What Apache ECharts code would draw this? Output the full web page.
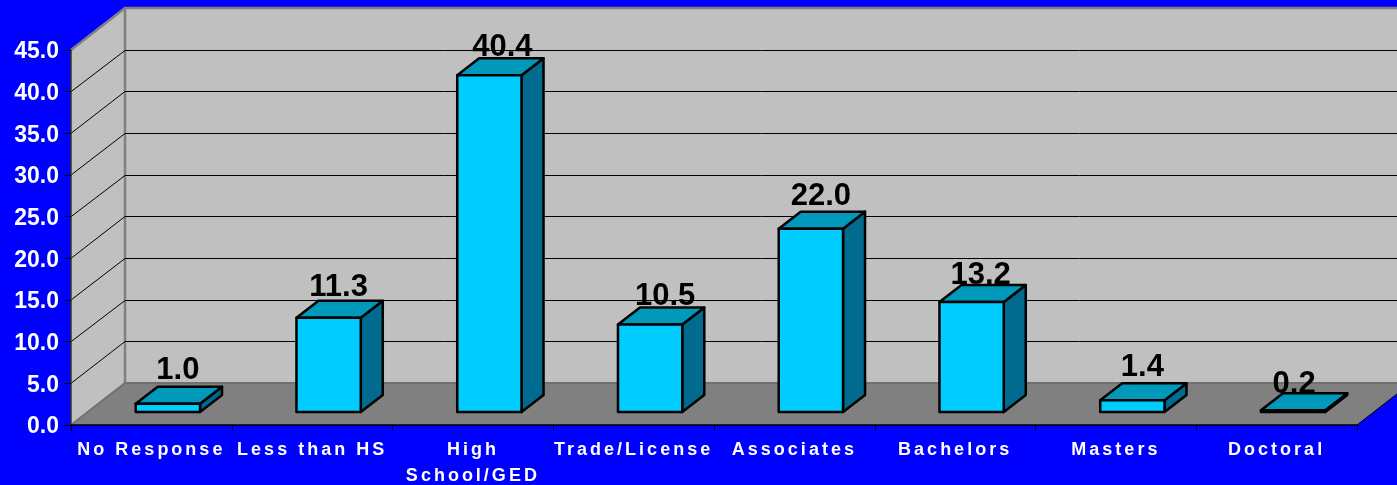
<!DOCTYPE html>
<html>
<head>
<meta charset="utf-8">
<style>html,body{margin:0;padding:0;background:#0000ff}#c{width:1397px;height:485px}</style>
<script src="https://cdn.jsdelivr.net/npm/echarts@6/dist/echarts.min.js"></script>
</head>
<body>
<div id="c"></div>
<script>
const categories = ['No Response', 'Less than HS', 'High\nSchool/GED', 'Trade/License', 'Associates', 'Bachelors', 'Masters', 'Doctoral'];
const percentages = [1.0, 11.3, 40.4, 10.5, 22.0, 13.2, 1.4, 0.2];
const gridTicks = [5, 10, 15, 20, 25, 30, 35, 40];
const labelNudgeX = [10, 10, 13, 15, 10, 9, 10, 1];
const labelNudgeY = [2, -1, -4, -3, 1, -5, 1, -6];

// Category labels in the reference are letter-spaced; the canvas exposes that per draw.
const CATEGORY_FONT_SIZE = 18;
const nativeFillText = CanvasRenderingContext2D.prototype.fillText;
CanvasRenderingContext2D.prototype.fillText = function (t, x, y, w) {
  this.letterSpacing = this.font.indexOf(CATEGORY_FONT_SIZE + 'px') >= 0 ? '3px' : '0px';
  return nativeFillText.call(this, t, x, y, w);
};

const FONT = '"Liberation Sans", Arial, sans-serif';
const WALL_DX = 54, WALL_DY = 42;
const BAR_SHIFT_X = 16.5, BAR_SHIFT_Y = 13, BAR_DX = 22, BAR_DY = 17;
const crisp = v => Math.round(v) + 0.5;

function renderWalls(params, api) {
  const r = params.coordSys;
  const L = r.x, R = r.x + r.width, T = r.y, B = r.y + r.height;
  const backB = B - WALL_DY, backT = T - WALL_DY;
  const edge = { stroke: '#808080', lineWidth: 2.5, fill: null };
  return { type: 'group', silent: true, children: [
    { type: 'polygon', shape: { points: [[L + WALL_DX, backT], [R + WALL_DX, backT], [R + WALL_DX, backB], [L + WALL_DX, backB]] }, style: { fill: '#c0c0c0', stroke: 'none' } },
    { type: 'polygon', shape: { points: [[L, T], [L + WALL_DX, backT], [L + WALL_DX, backB], [L, B]] }, style: { fill: '#c0c0c0', stroke: 'none' } },
    { type: 'polygon', shape: { points: [[L, B], [L + WALL_DX, backB], [R + WALL_DX, backB], [R, B]] }, style: { fill: '#808080', stroke: 'none' } },
    { type: 'polyline', shape: { points: [[L, T], [L + WALL_DX, backT], [R + WALL_DX, backT]] }, style: edge },
    { type: 'line', shape: { x1: L + WALL_DX, y1: backT, x2: L + WALL_DX, y2: backB }, style: edge },
    { type: 'polyline', shape: { points: [[L, B], [L + WALL_DX, backB], [R + WALL_DX, backB]] }, style: { stroke: '#707070', lineWidth: 2, fill: null } },
    { type: 'line', shape: { x1: R, y1: B, x2: R + WALL_DX, y2: backB }, style: { stroke: '#000', lineWidth: 1 } }
  ] };
}

function renderGrid(params, api) {
  const r = params.coordSys;
  const y = api.coord([0, api.value(0)])[1];
  const backY = crisp(y - WALL_DY);
  return { type: 'polyline', silent: true,
    shape: { points: [[r.x, y], [r.x + WALL_DX, backY], [r.x + r.width + WALL_DX, backY]] },
    style: { stroke: '#000', lineWidth: 1, fill: null } };
}

function renderBar(params, api) {
  const i = api.value(0), v = api.value(1);
  const top = api.coord([i, v]), base = api.coord([i, 0]);
  const w = api.size([1, 0])[0] * 0.4;
  const xl = top[0] - w / 2 + BAR_SHIFT_X, xr = xl + w;
  const yt = top[1] - BAR_SHIFT_Y, yb = base[1] - BAR_SHIFT_Y;
  const line = { stroke: '#000', lineWidth: 2.5, lineJoin: 'round' };
  return { type: 'group', children: [
    { type: 'polygon', shape: { points: [[xr, yt], [xr + BAR_DX, yt - BAR_DY], [xr + BAR_DX, yb - BAR_DY], [xr, yb]] }, style: Object.assign({ fill: '#006b8f' }, line) },
    { type: 'polygon', shape: { points: [[xl, yt], [xl + BAR_DX, yt - BAR_DY], [xr + BAR_DX, yt - BAR_DY], [xr, yt]] }, style: Object.assign({ fill: '#0099bb' }, line) },
    { type: 'rect', shape: { x: xl, y: yt, width: w, height: yb - yt }, style: Object.assign({ fill: '#00ccff' }, line) },
    { type: 'text', x: xl + w / 2 + labelNudgeX[i], y: yt - BAR_DY - labelNudgeY[i] + 1,
      style: { text: percentages[i].toFixed(1), fill: '#000', font: 'bold 31px ' + FONT, align: 'center', verticalAlign: 'bottom' } }
  ] };
}

const chart = echarts.init(document.getElementById('c'), null, { renderer: 'canvas' });
chart.setOption({
  animation: false,
  backgroundColor: '#0000ff',
  grid: { left: 71, right: 40, top: 50, bottom: 60, outerBoundsMode: 'none' },
  xAxis: {
    type: 'category', data: categories, z: 2,
    axisLine: { lineStyle: { color: '#000', width: 1.5 } },
    axisTick: { show: true, alignWithLabel: false, length: 6, lineStyle: { color: '#000' } },
    axisLabel: { interval: 0, color: '#fff', fontFamily: FONT, fontWeight: 'bold', fontSize: CATEGORY_FONT_SIZE, margin: 12, lineHeight: 26, hideOverlap: false },
    splitLine: { show: false }
  },
  yAxis: {
    type: 'value', min: 0, max: 45, interval: 5, z: 2,
    axisLine: { show: true, lineStyle: { color: '#333', width: 1.5 } },
    axisTick: { show: true, length: 7, lineStyle: { color: '#000' } },
    axisLabel: { color: '#fff', fontFamily: FONT, fontWeight: 'bold', fontSize: 23, margin: 12,
      formatter: v => '{t|' + v.toFixed(1) + '}',
      rich: { t: { color: '#fff', fontFamily: FONT, fontWeight: 'bold', fontSize: 23, padding: [4, 0, 0, 0] } } },
    splitLine: { show: false }
  },
  series: [
    { type: 'custom', z: 1, silent: true, renderItem: renderWalls, data: [[0, 0]], encode: { x: 0, y: 1 }, tooltip: { show: false } },
    { type: 'custom', z: 1.5, silent: true, renderItem: renderGrid, data: gridTicks.map(t => [t]), encode: { y: 0 } },
    { type: 'custom', z: 3, renderItem: renderBar, data: percentages.map((v, i) => [i, v]), encode: { x: 0, y: 1 } }
  ]
});
</script>
</body>
</html>
